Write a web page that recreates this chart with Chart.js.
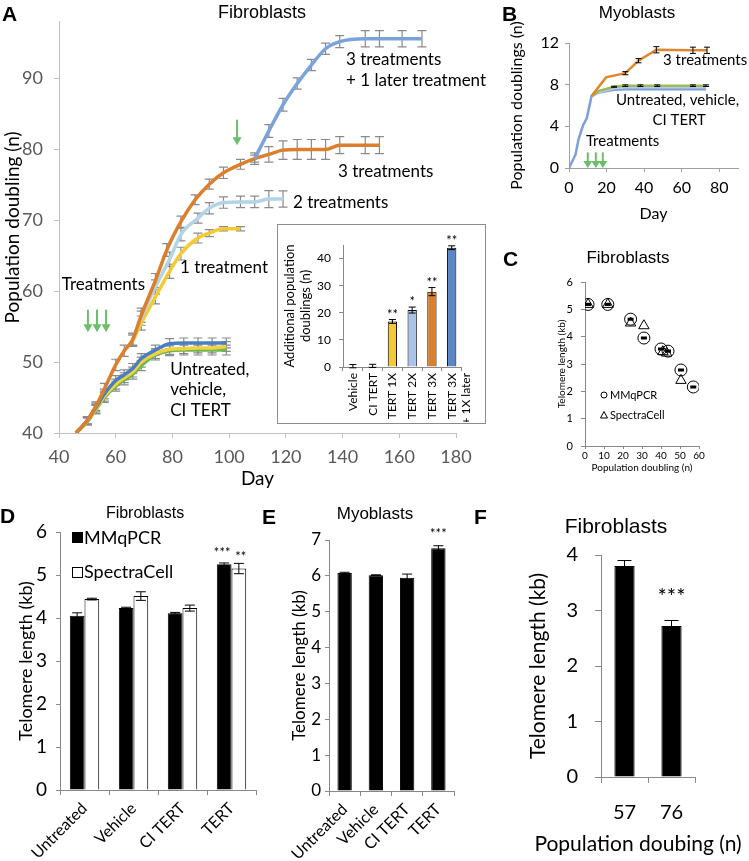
<!DOCTYPE html>
<html>
<head>
<meta charset="utf-8">
<script src="https://cdn.jsdelivr.net/npm/chart.js@4.4.1/dist/chart.umd.min.js"></script>
<style>
body { margin: 0; background: #fff; width: 749px; height: 861px; position: relative; overflow: hidden; font-family: 'Liberation Sans', Arial, sans-serif; }
canvas { position: absolute; }
.letter { position: absolute; font-weight: bold; font-size: 21px; line-height: 1; }
.ttl { position: absolute; transform: translate(-50%, -50%); white-space: nowrap; line-height: 1; }
#insetBox { position: absolute; left: 277px; top: 224px; width: 207px; height: 198px; border: 1px solid #8c8c8c; background: #fff; }
</style>
</head>
<body>
<canvas id="chartA" width="500" height="495" style="left:0;top:0"></canvas>
<div id="insetBox"></div>
<canvas id="chartInset" width="206" height="197" style="left:278px;top:225px"></canvas>
<canvas id="chartB" width="249" height="230" style="left:500px;top:0"></canvas>
<canvas id="chartC" width="249" height="215" style="left:500px;top:265px"></canvas>
<canvas id="chartD" width="262" height="361" style="left:0;top:500px"></canvas>
<canvas id="chartE" width="210" height="361" style="left:262px;top:500px"></canvas>
<canvas id="chartF" width="249" height="361" style="left:500px;top:500px"></canvas>

<div class="letter" style="left:2px;top:3px">A</div>
<div class="letter" style="left:502px;top:3px">B</div>
<div class="letter" style="left:503px;top:248px">C</div>
<div class="letter" style="left:0px;top:505px">D</div>
<div class="letter" style="left:262px;top:506px">E</div>
<div class="letter" style="left:474px;top:506px">F</div>

<div class="ttl" style="left:262px;top:12px;font-size:18px">Fibroblasts</div>
<div class="ttl" style="left:637px;top:12px;font-size:17px">Myoblasts</div>
<div class="ttl" style="left:628px;top:257px;font-size:17px">Fibroblasts</div>
<div class="ttl" style="left:145px;top:513px;font-size:16px">Fibroblasts</div>
<div class="ttl" style="left:375px;top:513px;font-size:17px">Myoblasts</div>
<div class="ttl" style="left:616px;top:525px;font-size:21px">Fibroblasts</div>
<div class="ttl" style="left:638px;top:842px;font-size:21px;font-family:Lato">Population doubing (n)</div>

<script>
// ---- Panel A: fibroblast population doublings ----
const daysA3x = [46, 50, 53, 56, 60, 63, 66, 69, 74, 78, 83, 88, 93, 98, 104, 109, 114, 119, 124, 129, 134, 139, 148, 153]
const pdA3x   = [40, 41.8, 43.8, 46.2, 49.6, 51.6, 53.2, 56.6, 61.5, 65.8, 69.8, 72.9, 75.1, 76.7, 77.9, 78.7, 79.3, 79.9, 80, 80, 80, 80.6, 80.6, 80.6]
const errA3x  = [0, 0.5, 0.6, 0.8, 0.8, 0.8, 0.9, 1.0, 1.0, 0.9, 0.8, 0.7, 0.7, 0.8, 0.7, 0.8, 1.1, 1.3, 1.4, 1.4, 1.4, 1.2, 1.2, 1.2]

const daysA4x = [109, 114, 119, 124, 129, 134, 139, 148, 153, 161, 168]
const pdA4x   = [78.7, 82.6, 86.3, 89.3, 91.9, 94.2, 95.2, 95.6, 95.6, 95.6, 95.6]
const errA4x  = [0.5, 0.9, 0.9, 0.8, 0.8, 0.8, 0.85, 1.15, 1.15, 1.15, 1.15]

const daysA2x = [66, 69, 74, 79, 83, 89, 93, 98, 104, 109, 114, 119]
const pdA2x   = [53.2, 56.2, 60.6, 64.5, 68, 70.3, 71.7, 72.5, 72.6, 72.6, 73, 73]
const errA2x  = [0.8, 1.0, 1.0, 1.0, 0.9, 0.7, 0.8, 0.8, 0.8, 0.8, 1.2, 1.15]

const daysA1x = [66, 69, 74, 79, 83, 89, 93, 98, 104]
const pdA1x   = [53, 55.5, 59.2, 62.8, 65.3, 67.5, 68.2, 68.8, 68.8]
const errA1x  = [0.8, 1.0, 1.0, 1.0, 0.9, 0.7, 0.5, 0.3, 0.3]

const daysCtrl   = [46, 50, 53, 56, 60, 63, 66, 69, 74, 79, 84, 89, 94, 99]
const pdUntr     = [40, 41.8, 43.6, 45.5, 47.4, 48.2, 49.1, 50.5, 51.7, 52.6, 52.7, 52.7, 52.7, 52.7]
const pdVehicle  = [40, 41.6, 43.3, 45, 46.6, 47.5, 48.3, 49.5, 51, 51.6, 51.7, 51.7, 51.7, 51.7]
const pdCiTert   = [40, 41.7, 43.4, 45.2, 46.9, 47.8, 48.6, 50, 51.2, 51.8, 51.9, 52, 52, 52.2]
const errCtrl    = [0, 0.5, 0.6, 0.7, 0.7, 0.7, 0.7, 0.7, 0.7, 0.7, 0.7, 0.7, 0.7, 0.7]

// inset of A
const insetCats  = ['Vehicle', 'CI TERT', 'TERT 1X', 'TERT 2X', 'TERT 3X', ['TERT 3X', '+ 1X later']]
const insetVals  = [0.3, 0.4, 16.8, 21, 27.8, 44]
const insetErr   = [0.6, 0.6, 0.7, 1.1, 1.5, 0.7]
const insetStars = ['', '', '**', '*', '**', '**']

// ---- Panel B: myoblasts ----
const daysBCtrl = [0, 3.5, 5, 7.5, 9.5, 12, 16, 24, 30, 38, 47, 66, 73]
const pdBUntr   = [0, 1.3, 2.7, 4.1, 4.8, 6.9, 7.25, 7.5, 7.55, 7.55, 7.55, 7.55, 7.55]
const daysBOth  = [12, 16, 24, 30, 38, 47, 66, 73]
const pdBVeh    = [6.9, 7.3, 7.65, 7.75, 7.75, 7.75, 7.75, 7.75]
const pdBCi     = [6.9, 7.4, 7.8, 7.9, 7.9, 7.9, 7.9, 7.9]
const errBCi    = [0, 0, 0.05, 0.08, 0.08, 0.08, 0.08, 0.08]
const daysB3x   = [12, 19.7, 30, 37, 46.5, 66, 73.5]
const pdB3x     = [6.9, 8.7, 9.1, 10.3, 11.35, 11.3, 11.3]
const errB3x    = [0, 0, 0.15, 0.2, 0.3, 0.3, 0.3]

// ---- Panel C: telomere length vs population doubling ----
const pdCmmq  = [1.6, 12, 24, 31, 40, 43.7, 50.5, 57]
const tlCmmq  = [5.18, 5.18, 4.64, 3.95, 3.55, 3.47, 2.78, 2.16]
const pdCspc  = [1.6, 12, 24, 31, 41, 43, 50.5]
const tlCspc  = [5.18, 5.18, 4.5, 4.4, 3.45, 3.4, 2.4]

// ---- Panels D, E, F ----
const groups   = ['Untreated', 'Vehicle', 'CI TERT', 'TERT']
const mmqD     = [4.05, 4.23, 4.11, 5.25]
const mmqErrD  = [0.07, 0.02, 0.02, 0.03]
const spcD     = [4.44, 4.51, 4.23, 5.15]
const spcErrD  = [0.02, 0.1, 0.07, 0.12]
const starsD1  = ['', '', '', '***']
const starsD2  = ['', '', '', '**']

const tlE      = [6.08, 6.02, 5.95, 6.77]
const errE     = [0.02, 0.01, 0.1, 0.07]
const starsE   = ['', '', '', '***']

const pdF      = ['57', '76']
const tlF      = [3.8, 2.72]
const errF     = [0.1, 0.1]
const starsF   = ['', '***']

Chart.defaults.font.family = 'Lato'
Chart.defaults.color = '#000'
Chart.defaults.animation = false
Chart.defaults.plugins.legend.display = false
Chart.defaults.plugins.tooltip.enabled = false

const xy = (xs, ys) => xs.map((d, i) => ({ x: d, y: ys[i] }))

// error bars, drawn from dataset.errors
const errorBars = {
    id: 'errorBars',
    draw(chart, behind) {
        const opts = chart.options.plugins.errorBars || {}
        if (!!opts.behind !== behind) return
        const ctx = chart.ctx
        chart.data.datasets.forEach((ds, i) => {
            if (!ds.errors) return
            const meta = chart.getDatasetMeta(i)
            const ys = chart.scales[meta.yAxisID]
            ctx.save()
            ctx.strokeStyle = ds.errorColor || '#000'
            ctx.lineWidth = ds.errorWidth || 1
            const cap = ds.capHalf || 4
            meta.data.forEach((el, j) => {
                const e = ds.errors[j]
                if (!e) return
                const raw = ds.data[j]
                const v = typeof raw === 'object' ? raw.y : raw
                const t = ys.getPixelForValue(v + e), b = ys.getPixelForValue(v - e)
                const x = el.x
                ctx.beginPath()
                ctx.moveTo(x, t); ctx.lineTo(x, b)
                ctx.moveTo(x - cap, t); ctx.lineTo(x + cap, t)
                ctx.moveTo(x - cap, b); ctx.lineTo(x + cap, b)
                ctx.stroke()
            })
            if (ds.stars) {
                ctx.fillStyle = '#000'
                ctx.font = ds.starFont || '12px Lato'
                ctx.textAlign = 'center'
                ctx.textBaseline = 'alphabetic'
                meta.data.forEach((el, j) => {
                    if (!ds.stars[j]) return
                    const v = ds.data[j] + (ds.errors[j] || 0)
                    ctx.fillText(ds.stars[j], el.x + (ds.starShift || 0), ys.getPixelForValue(v) - (ds.starGap || 2))
                })
            }
            ctx.restore()
        })
    },
    beforeDatasetsDraw(chart) { this.draw(chart, true) },
    afterDatasetsDraw(chart) { this.draw(chart, false) }
}

// text labels and arrows placed in data coordinates
const notes = {
    id: 'notes',
    afterDatasetsDraw(chart, args, opts) {
        if (!opts.items && !opts.arrows) return
        const { ctx, scales: { x, y } } = chart
        ctx.save()
        ;(opts.arrows || []).forEach(a => {
            const px = x.getPixelForValue(a.x), p1 = y.getPixelForValue(a.y1), p2 = y.getPixelForValue(a.y2)
            const head = opts.head || 8, hw = opts.half || 4.5
            ctx.strokeStyle = ctx.fillStyle = opts.arrowColor || '#6cbf6a'
            ctx.lineWidth = 2
            ctx.beginPath(); ctx.moveTo(px, p1); ctx.lineTo(px, p2 - head + 1); ctx.stroke()
            ctx.beginPath(); ctx.moveTo(px - hw, p2 - head); ctx.lineTo(px + hw, p2 - head); ctx.lineTo(px, p2); ctx.closePath(); ctx.fill()
        })
        ctx.fillStyle = '#000'
        ctx.font = opts.font || '16px Lato'
        ctx.textBaseline = 'middle'
        ;(opts.items || []).forEach(t => {
            ctx.textAlign = t.align || 'left'
            ctx.fillText(t.text, x.getPixelForValue(t.x), y.getPixelForValue(t.y))
        })
        ctx.restore()
    }
}

Chart.register(errorBars, notes)

// chart area placement: canvas w/h, area l,t,r,b, outer left/bottom padding
function frame(w, h, l, t, r, b, padL, padB) {
    return {
        layout: { padding: { left: padL, top: t, right: w - r, bottom: padB } },
        yFit: s => { s.width = l - padL },
        xFit: s => { s.height = h - b - padB }
    }
}

// ---------- A ----------
const fA = frame(500, 495, 59, 12, 456, 433, 0, 0)
const greyAxis = { color: '#c0c0c0', width: 1 }
const lineA = (data, color, order, errs) => ({
    data, borderColor: color, borderWidth: 3.5, pointRadius: 0, order,
    cubicInterpolationMode: 'monotone', errors: errs, errorColor: '#8a8a8a', errorWidth: 1.2, capHalf: 4.5
})
new Chart(document.getElementById('chartA'), {
    type: 'line',
    data: {
        datasets: [
            lineA(xy(daysA4x, pdA4x), '#7ba3db', 0, errA4x),
            lineA(xy(daysA3x, pdA3x), '#db7f2c', 1, errA3x),
            lineA(xy(daysA2x, pdA2x), '#b2d4e6', 2, errA2x),
            lineA(xy(daysA1x, pdA1x), '#f4c932', 3, errA1x),
            lineA(xy(daysCtrl, pdUntr), '#4a7ec2', 4, errCtrl),
            lineA(xy(daysCtrl, pdCiTert), '#f2d33e', 5, errCtrl),
            lineA(xy(daysCtrl, pdVehicle), '#6fb655', 6, errCtrl)
        ]
    },
    options: {
        responsive: false,
        layout: fA.layout,
        scales: {
            x: {
                type: 'linear', min: 40, max: 180, afterFit: fA.xFit,
                border: greyAxis,
                grid: { drawOnChartArea: false, tickLength: 5, color: '#c0c0c0' },
                ticks: { stepSize: 20, color: '#595959', font: { size: 18 }, padding: 8 },
                title: { display: true, text: 'Day', font: { size: 19 }, padding: { bottom: 5 } }
            },
            y: {
                min: 40, max: 98, afterFit: fA.yFit,
                border: greyAxis,
                grid: { drawOnChartArea: false, tickLength: 5, color: '#c0c0c0' },
                ticks: { stepSize: 10, includeBounds: false, color: '#595959', font: { size: 18 }, padding: 11 },
                title: { display: true, text: 'Population doubling (n)', font: { size: 19 }, padding: { top: 1 } }
            }
        },
        plugins: {
            errorBars: { behind: true },
            notes: {
                font: '17px Lato',
                items: [
                    { text: '3 treatments', x: 141.2, y: 92.7 },
                    { text: '+ 1 later treatment', x: 141.2, y: 89.7 },
                    { text: '3 treatments', x: 138.4, y: 76.9 },
                    { text: '2 treatments', x: 122.5, y: 72.5 },
                    { text: '1 treatment', x: 82.7, y: 63.4 },
                    { text: 'Treatments', x: 41, y: 60.9 },
                    { text: 'Untreated,', x: 79.2, y: 49 },
                    { text: 'vehicle,', x: 79.2, y: 46.1 },
                    { text: 'CI TERT', x: 79.2, y: 43.2 }
                ],
                arrows: [
                    { x: 50.2, y1: 57.4, y2: 54.2 },
                    { x: 53.4, y1: 57.4, y2: 54.2 },
                    { x: 56.6, y1: 57.4, y2: 54.2 },
                    { x: 102.8, y1: 84.2, y2: 80.6 }
                ]
            }
        }
    }
})

// ---------- inset ----------
const fI = frame(206, 197, 65, 20, 188, 142, 0, 0)
new Chart(document.getElementById('chartInset'), {
    type: 'bar',
    data: {
        labels: insetCats,
        datasets: [{
            data: insetVals,
            backgroundColor: ['#ffffff', '#ffffff', '#f4c932', '#a9c3e8', '#db7f2c', '#5b86c6'],
            borderColor: '#000', borderWidth: 1,
            barPercentage: 0.47, categoryPercentage: 1,
            errors: insetErr, capHalf: 3.5, stars: insetStars, starFont: '13px Lato', starGap: 1
        }]
    },
    options: {
        responsive: false,
        layout: fI.layout,
        scales: {
            x: {
                afterFit: fI.xFit,
                border: { color: '#888' },
                grid: { drawOnChartArea: false, tickLength: 4, color: '#888' },
                ticks: { minRotation: 90, maxRotation: 90, autoSkip: false, font: { size: 12 }, padding: 2, color: '#000' }
            },
            y: {
                min: 0, max: 45, afterFit: fI.yFit,
                border: { color: '#888' },
                grid: { drawOnChartArea: false, tickLength: 4, color: '#888' },
                ticks: { stepSize: 10, includeBounds: false, font: { size: 12 }, padding: 8, color: '#000' },
                title: { display: true, text: ['Additional population', 'doublings (n)'], font: { size: 13 }, padding: { top: 4 } }
            }
        }
    }
})

// ---------- B ----------
const fB = frame(249, 230, 69, 43, 238, 168, 0, 0)
const lineB = (data, color, order, errs) => ({
    data, borderColor: color, borderWidth: 2.5, pointRadius: 0, order, tension: 0,
    errors: errs, errorColor: '#000', errorWidth: 1, capHalf: 3
})
new Chart(document.getElementById('chartB'), {
    type: 'line',
    data: {
        datasets: [
            lineB(xy(daysB3x, pdB3x), '#e0862e', 0, errB3x),
            lineB(xy(daysBOth, pdBCi), '#9bbb59', 1, errBCi),
            lineB(xy(daysBOth, pdBVeh), '#b7cde6', 2),
            lineB(xy(daysBCtrl, pdBUntr), '#7ca0d5', 3)
        ]
    },
    options: {
        responsive: false,
        layout: fB.layout,
        scales: {
            x: {
                type: 'linear', min: 0, max: 90, afterFit: fB.xFit,
                border: { color: '#a0a0a0' },
                grid: { drawOnChartArea: false, tickLength: 4, color: '#a0a0a0' },
                ticks: { stepSize: 20, includeBounds: false, font: { size: 16 }, padding: 6 },
                title: { display: true, text: 'Day', font: { size: 16 }, padding: { bottom: 7 } }
            },
            y: {
                min: 0, max: 12, afterFit: fB.yFit,
                border: { color: '#a0a0a0' },
                grid: { drawOnChartArea: false, tickLength: 4, color: '#a0a0a0' },
                ticks: { stepSize: 2, font: { size: 16 }, padding: 6 },
                title: { display: true, text: 'Population doublings (n)', font: { size: 16 }, padding: { top: 7 } }
            }
        },
        plugins: {
            notes: {
                font: '15px Lato',
                half: 4.5, head: 7,
                items: [
                    { text: '3 treatments', x: 50.1, y: 10.4 },
                    { text: 'Untreated, vehicle,', x: 25, y: 6.5 },
                    { text: 'CI TERT', x: 58.7, y: 4.6, align: 'center' },
                    { text: 'Treatments', x: 9, y: 2.6 }
                ],
                arrows: [
                    { x: 10, y1: 1.5, y2: 0 },
                    { x: 14.3, y1: 1.5, y2: 0 },
                    { x: 18, y1: 1.5, y2: 0 }
                ]
            }
        }
    }
})

// ---------- C ----------
const fC = frame(249, 215, 85, 17, 199, 181, 56, 0)
const legendC = {
    id: 'legendC',
    afterDraw(chart) {
        const ctx = chart.ctx, a = chart.chartArea
        ctx.save()
        ctx.strokeStyle = '#000'; ctx.fillStyle = '#000'; ctx.lineWidth = 1
        ctx.font = '11px Lato'; ctx.textBaseline = 'middle'; ctx.textAlign = 'left'
        const x0 = a.left + 19
        ctx.beginPath(); ctx.arc(x0, a.top + 113, 3, 0, Math.PI * 2); ctx.stroke()
        ctx.fillText('MMqPCR', x0 + 6, a.top + 113)
        ctx.beginPath(); ctx.moveTo(x0 - 3.5, a.top + 136); ctx.lineTo(x0 + 3.5, a.top + 136); ctx.lineTo(x0, a.top + 129.5); ctx.closePath(); ctx.stroke()
        ctx.fillText('SpectraCell', x0 + 6, a.top + 133)
        ctx.restore()
    }
}
new Chart(document.getElementById('chartC'), {
    type: 'scatter',
    data: {
        datasets: [
            {
                data: xy(pdCmmq, tlCmmq), pointStyle: 'circle', pointRadius: 6,
                pointBackgroundColor: 'rgba(255,255,255,0)', pointBorderColor: '#000', pointBorderWidth: 1,
                errors: tlCmmq.map(() => 0.02), capHalf: 3, errorWidth: 2
            },
            {
                data: xy(pdCspc, tlCspc), pointStyle: 'triangle', pointRadius: 6,
                pointBackgroundColor: 'rgba(255,255,255,0)', pointBorderColor: '#000', pointBorderWidth: 1
            }
        ]
    },
    options: {
        responsive: false,
        layout: fC.layout,
        scales: {
            x: {
                min: 0, max: 60, afterFit: fC.xFit,
                border: { color: '#888' },
                grid: { drawOnChartArea: false, tickLength: 3, color: '#888' },
                ticks: { stepSize: 10, font: { size: 10 }, padding: 1 },
                title: { display: true, text: 'Population doubling (n)', font: { size: 10 }, padding: { bottom: 6 } }
            },
            y: {
                min: 0, max: 6, afterFit: fC.yFit,
                border: { color: '#888' },
                grid: { drawOnChartArea: false, tickLength: 4, color: '#888' },
                ticks: { stepSize: 1, font: { size: 11 }, padding: 8 },
                title: { display: true, text: 'Telomere length (kb)', font: { size: 10 }, padding: { top: 0 } }
            }
        }
    },
    plugins: [legendC]
})

// ---------- D ----------
const fD = frame(262, 361, 60, 32, 256, 290, 15, 0)
const legendD = {
    id: 'legendD',
    afterDraw(chart) {
        const ctx = chart.ctx, a = chart.chartArea
        ctx.save()
        ctx.font = '18px Lato'; ctx.textBaseline = 'middle'; ctx.fillStyle = '#000'
        ctx.fillRect(a.left + 12, a.top + 0, 11, 11)
        ctx.fillText('MMqPCR', a.left + 24, a.top + 6)
        ctx.strokeStyle = '#000'; ctx.lineWidth = 1
        ctx.strokeRect(a.left + 12.5, a.top + 35.5, 10, 10)
        ctx.fillText('SpectraCell', a.left + 24, a.top + 40)
        ctx.restore()
    }
}
const barScales = (f, max, step, tick, titleSize, tickPad, titlePad) => ({
    x: {
        afterFit: f.xFit,
        border: { color: '#888' },
        grid: { drawOnChartArea: false, tickLength: 5, color: '#888', offset: true },
        ticks: { minRotation: 45, maxRotation: 45, autoSkip: false, font: { size: 16 }, padding: 4 }
    },
    y: {
        min: 0, max, afterFit: f.yFit,
        border: { color: '#888' },
        grid: { drawOnChartArea: false, tickLength: 4, color: '#888' },
        ticks: { stepSize: step, font: { size: tick }, padding: tickPad },
        title: { display: true, text: 'Telomere length (kb)', font: { size: titleSize }, padding: { top: titlePad } }
    }
})
new Chart(document.getElementById('chartD'), {
    type: 'bar',
    data: {
        labels: groups,
        datasets: [
            { data: mmqD, backgroundColor: '#000', borderColor: '#000', borderWidth: 1, categoryPercentage: 0.6, barPercentage: 1,
              errors: mmqErrD, capHalf: 5, stars: starsD1, starFont: '13px Lato', starGap: 6, starShift: -2 },
            { data: spcD, backgroundColor: '#fff', borderColor: '#000', borderWidth: 1, categoryPercentage: 0.6, barPercentage: 1,
              errors: spcErrD, capHalf: 5, stars: starsD2, starFont: '13px Lato', starGap: 2, starShift: 2 }
        ]
    },
    options: { responsive: false, layout: fD.layout, scales: barScales(fD, 6, 1, 19, 18, 9, 0) },
    plugins: [legendD]
})

// ---------- E ----------
const fE = frame(210, 361, 67, 40, 192, 291, 27, 0)
new Chart(document.getElementById('chartE'), {
    type: 'bar',
    data: {
        labels: groups,
        datasets: [{ data: tlE, backgroundColor: '#000', borderColor: '#000', borderWidth: 1, barPercentage: 0.46, categoryPercentage: 1,
                     errors: errE, capHalf: 5, stars: starsE, starFont: '13px Lato', starGap: 8 }]
    },
    options: { responsive: false, layout: fE.layout, scales: barScales(fE, 7, 1, 17, 17, 4, 0) }
})

// ---------- F ----------
const fF = frame(249, 361, 101, 55, 195, 277, 26, 0)
new Chart(document.getElementById('chartF'), {
    type: 'bar',
    data: {
        labels: pdF,
        datasets: [{ data: tlF, backgroundColor: '#000', borderColor: '#000', borderWidth: 1, barPercentage: 0.43, categoryPercentage: 1,
                     errors: errF, capHalf: 7, stars: starsF, starFont: '22px Lato', starGap: 16 }]
    },
    options: {
        responsive: false,
        layout: fF.layout,
        scales: {
            x: {
                afterFit: fF.xFit,
                border: { color: '#888' },
                grid: { drawOnChartArea: false, tickLength: 6, color: '#888', offset: true },
                ticks: { font: { size: 20 }, padding: 18 }
            },
            y: {
                min: 0, max: 4, afterFit: fF.yFit,
                border: { color: '#888' },
                grid: { drawOnChartArea: false, tickLength: 6, color: '#888' },
                ticks: { stepSize: 1, font: { size: 20 }, padding: 17 },
                title: { display: true, text: 'Telomere length (kb)', font: { size: 21 }, padding: { top: 0 } }
            }
        }
    }
})
</script>
</body>
</html>
